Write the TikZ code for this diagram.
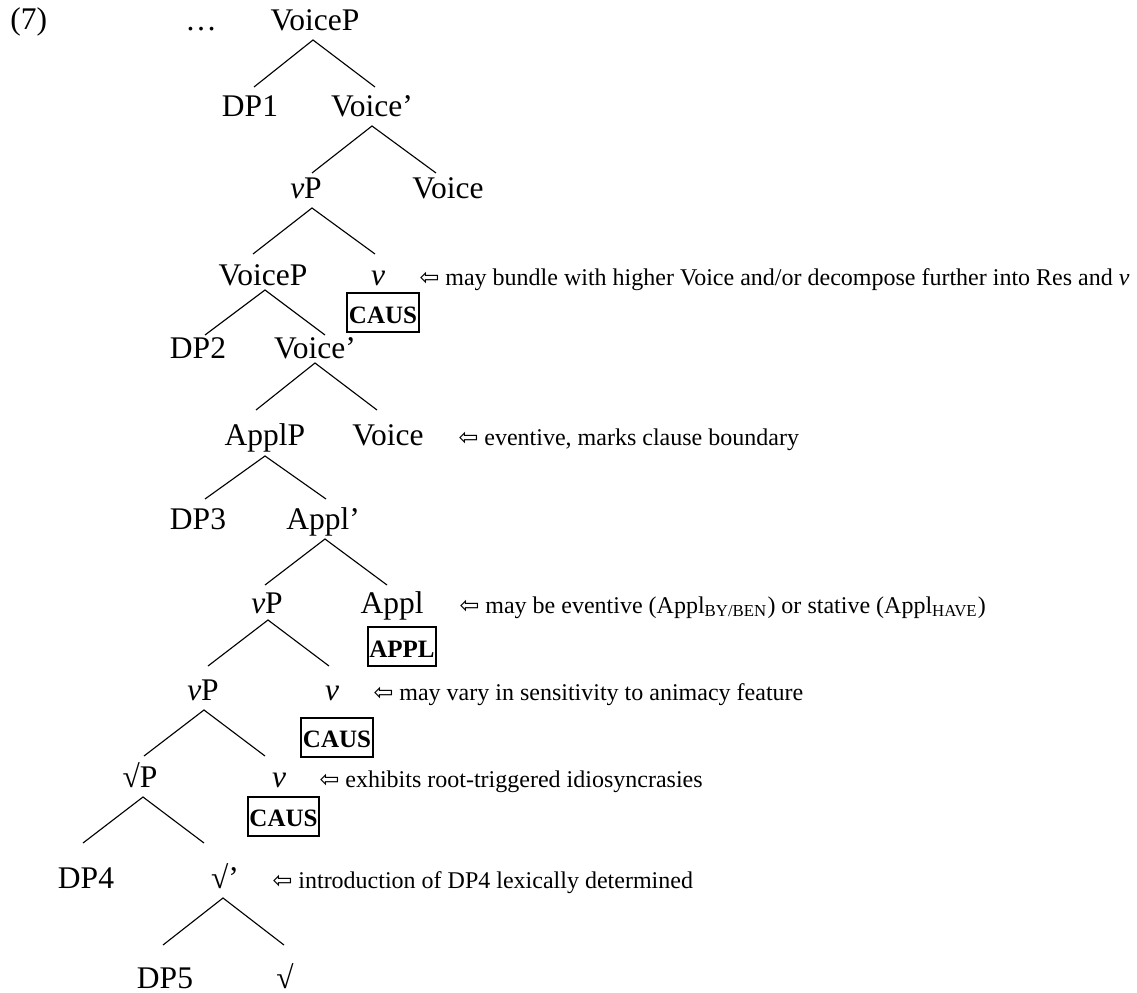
\documentclass[tikz,border=0pt]{standalone}
\usepackage{fontspec}
\setmainfont{Liberation Serif}
\newfontfamily\arrowfont{DejaVu Sans}
\usetikzlibrary{calc}
\newcommand{\larr}{{\arrowfont\fontsize{9.5}{11}\selectfont ⇦}}
\begin{document}
\begin{tikzpicture}[x=0.4pt,y=-0.4pt,
  lab/.style={inner sep=0pt, anchor=base, font=\fontsize{12.6}{15}\selectfont},
  note/.style={inner sep=0pt, anchor=base west, font=\fontsize{9.6}{11.5}\selectfont},
  feat/.style={draw, line width=0.8pt, inner xsep=0.6pt, inner ysep=0.3pt,
    text height=11.8pt, text depth=3.2pt, font=\fontsize{10}{12}\selectfont\bfseries},
  branch/.style={line width=0.45pt}]
\path[use as bounding box] (0,0) rectangle (1137,992);

% example number and elided material
\node[lab, anchor=base west] (ex) at (10,30) {(7)};
\node[lab] (dots) at (201,31) {…};

% tree labels
\node[lab] (n1)  at (315,31)  {VoiceP};
\node[lab] (n2)  at (250,117) {DP1};
\node[lab] (n3)  at (372,117) {Voice’};
\node[lab] (n4)  at (306,199) {\textit{v}P};
\node[lab] (n5)  at (448,199) {Voice};
\node[lab] (n6)  at (263,285) {VoiceP};
\node[lab] (n7)  at (378,285) {\textit{v}};
\node[lab] (n8)  at (198,358) {DP2};
\node[lab] (n9)  at (315,358) {Voice’};
\node[lab] (n10) at (265,445) {ApplP};
\node[lab] (n11) at (388,445) {Voice};
\node[lab] (n12) at (198,529) {DP3};
\node[lab] (n13) at (323,529) {Appl’};
\node[lab] (n14) at (267,613) {\textit{v}P};
\node[lab] (n15) at (392,613) {Appl};
\node[lab] (n16) at (203,700) {\textit{v}P};
\node[lab] (n17) at (332,700) {\textit{v}};
\node[lab] (n18) at (140,787) {√P};
\node[lab] (n19) at (279,787) {\textit{v}};
\node[lab] (n20) at (86,888)  {DP4};
\node[lab] (n21) at (225,888) {√’};
\node[lab] (n22) at (165,988) {DP5};
\node[lab] (n23) at (285,988) {√};

% boxed features under heads
\node[feat] (f1) at (383,312.5) {CAUS};
\node[feat] (f2) at (402,646.5) {APPL};
\node[feat] (f3) at (337,737)   {CAUS};
\node[feat] (f4) at (283.5,816) {CAUS};

% annotations
\node[note] (a1) at (419,285) {\larr\ may bundle with higher Voice and/or decompose further into Res and \textit{v}};
\node[note] (a2) at (458,445) {\larr\ eventive, marks clause boundary};
\node[note] (a3) at (459,613) {\larr\ may be eventive (Appl\textsubscript{BY/BEN}) or stative (Appl\textsubscript{HAVE})};
\node[note] (a4) at (373,700) {\larr\ may vary in sensitivity to animacy feature};
\node[note] (a5) at (319,787) {\larr\ exhibits root-triggered idiosyncrasies};
\node[note] (a6) at (272,888) {\larr\ introduction of DP4 lexically determined};

% branches
\draw[branch] ($(n2.base)+(4,-30)$) -- ($(n1.base)+(-2,9)$) -- ($(n3.base)+(3,-30)$);
\draw[branch] ($(n4.base)+(6,-26)$) -- ($(n3.base)+(0,9)$) -- ($(n5.base)+(-12,-26)$);
\draw[branch] ($(n6.base)+(-10,-31)$) -- ($(n4.base)+(6,9)$) -- ($(n7.base)+(-3,-31)$);
\draw[branch] ($(n8.base)+(7,-23)$) -- ($(n6.base)+(2,5)$) -- ($(n9.base)+(10,-23)$);
\draw[branch] ($(n10.base)+(-9,-35)$) -- ($(n9.base)+(0,5)$) -- ($(n11.base)+(-11,-35)$);
\draw[branch] ($(n12.base)+(7,-30)$) -- ($(n10.base)+(0,11)$) -- ($(n13.base)+(3,-30)$);
\draw[branch] ($(n14.base)+(-2,-28)$) -- ($(n13.base)+(2,10)$) -- ($(n15.base)+(-5,-28)$);
\draw[branch] ($(n16.base)+(5,-34)$) -- ($(n14.base)+(1,7)$) -- ($(n17.base)+(-3,-34)$);
\draw[branch] ($(n18.base)+(4,-31)$) -- ($(n16.base)+(1,10)$) -- ($(n19.base)+(-14,-31)$);
\draw[branch] ($(n20.base)+(-3,-45)$) -- ($(n18.base)+(3,10)$) -- ($(n21.base)+(-21,-45)$);
\draw[branch] ($(n22.base)+(-2,-43)$) -- ($(n21.base)+(-2,10)$) -- ($(n23.base)+(-1,-43)$);
\end{tikzpicture}
\end{document}
